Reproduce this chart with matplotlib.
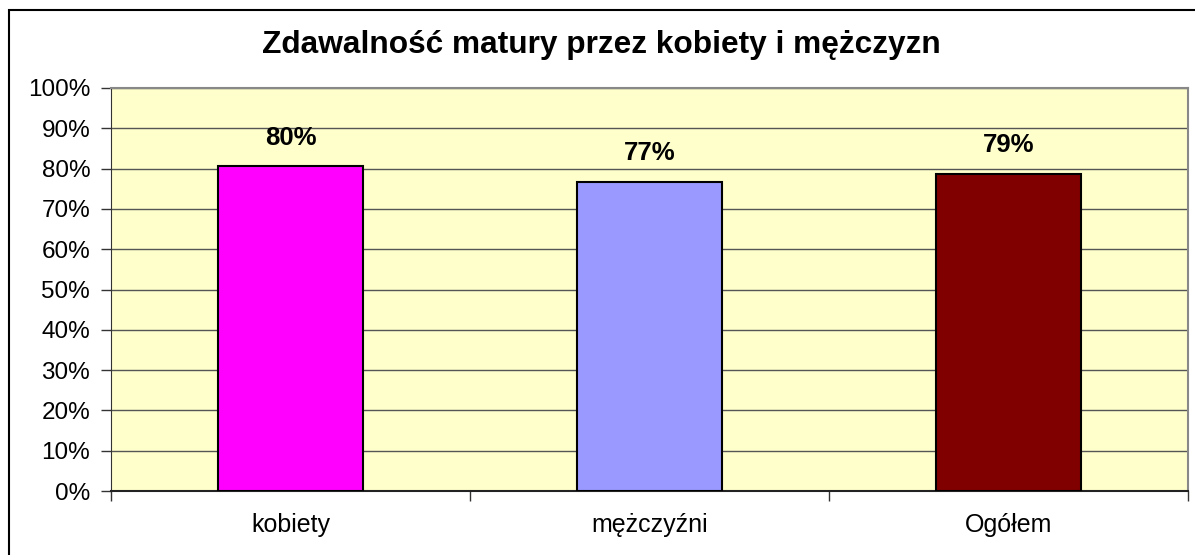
import matplotlib.pyplot as plt
from matplotlib.patches import Rectangle
from matplotlib.ticker import MultipleLocator, PercentFormatter

categories = ["kobiety", "mężczyźni", "Ogółem"]
values = [80.6, 76.7, 78.7]
value_labels = ["80%", "77%", "79%"]
colors = ["#FF00FF", "#9999FF", "#800000"]

plt.rcParams["font.family"] = ["Liberation Sans", "DejaVu Sans"]

fig = plt.figure(figsize=(11.95, 5.55), dpi=100)
ax = fig.add_axes([111 / 1195, 1 - 491 / 555, (1188 - 111) / 1195, (491 - 88) / 555])

# outer chart border
fig.patches.append(Rectangle((9 / 1195, -0.1), 1.2, 1 - 10 / 555 + 0.1, transform=fig.transFigure,
                             fill=False, edgecolor="black", linewidth=1.5))

x = range(len(categories))
ax.bar(x, values, width=0.405, color=colors, edgecolor="black", linewidth=1.5, zorder=3)
for i, (v, lab) in enumerate(zip(values, value_labels)):
    ax.annotate(lab, (i, v), xytext=(0, 12), textcoords="offset points", ha="center", va="bottom",
                fontsize=18.5, fontweight="bold")

ax.set_facecolor("#FFFFCC")
ax.set_xlim(-0.5, 2.5)
ax.set_ylim(0, 100)
ax.yaxis.set_major_locator(MultipleLocator(10))
ax.yaxis.set_major_formatter(PercentFormatter(decimals=0))
ax.grid(axis="y", color="#555555", linewidth=1, zorder=0)
ax.set_axisbelow(True)

ax.set_xticks([-0.5, 0.5, 1.5, 2.5])
ax.set_xticklabels([])
ax.set_xticks(list(x), minor=True)
ax.set_xticklabels(categories, minor=True)
ax.tick_params(axis="x", which="major", direction="out", length=7, width=1, color="#333333")
ax.tick_params(axis="x", which="minor", length=0, labelsize=18, pad=16)
ax.tick_params(axis="y", direction="out", length=7, width=1, labelsize=17.5, pad=8, color="#333333")

for side in ["top", "right"]:
    ax.spines[side].set_color("#888888")
    ax.spines[side].set_linewidth(1.5)
ax.spines["left"].set_color("#333333")
ax.spines["bottom"].set_color("#222222")
ax.spines["bottom"].set_linewidth(1.5)

fig.text(601 / 1195, 1 - 45 / 555, "Zdawalność matury przez kobiety i mężczyzn", ha="center", va="center",
         fontsize=22.8, fontweight="bold")

fig.savefig("out.png", dpi=100)
